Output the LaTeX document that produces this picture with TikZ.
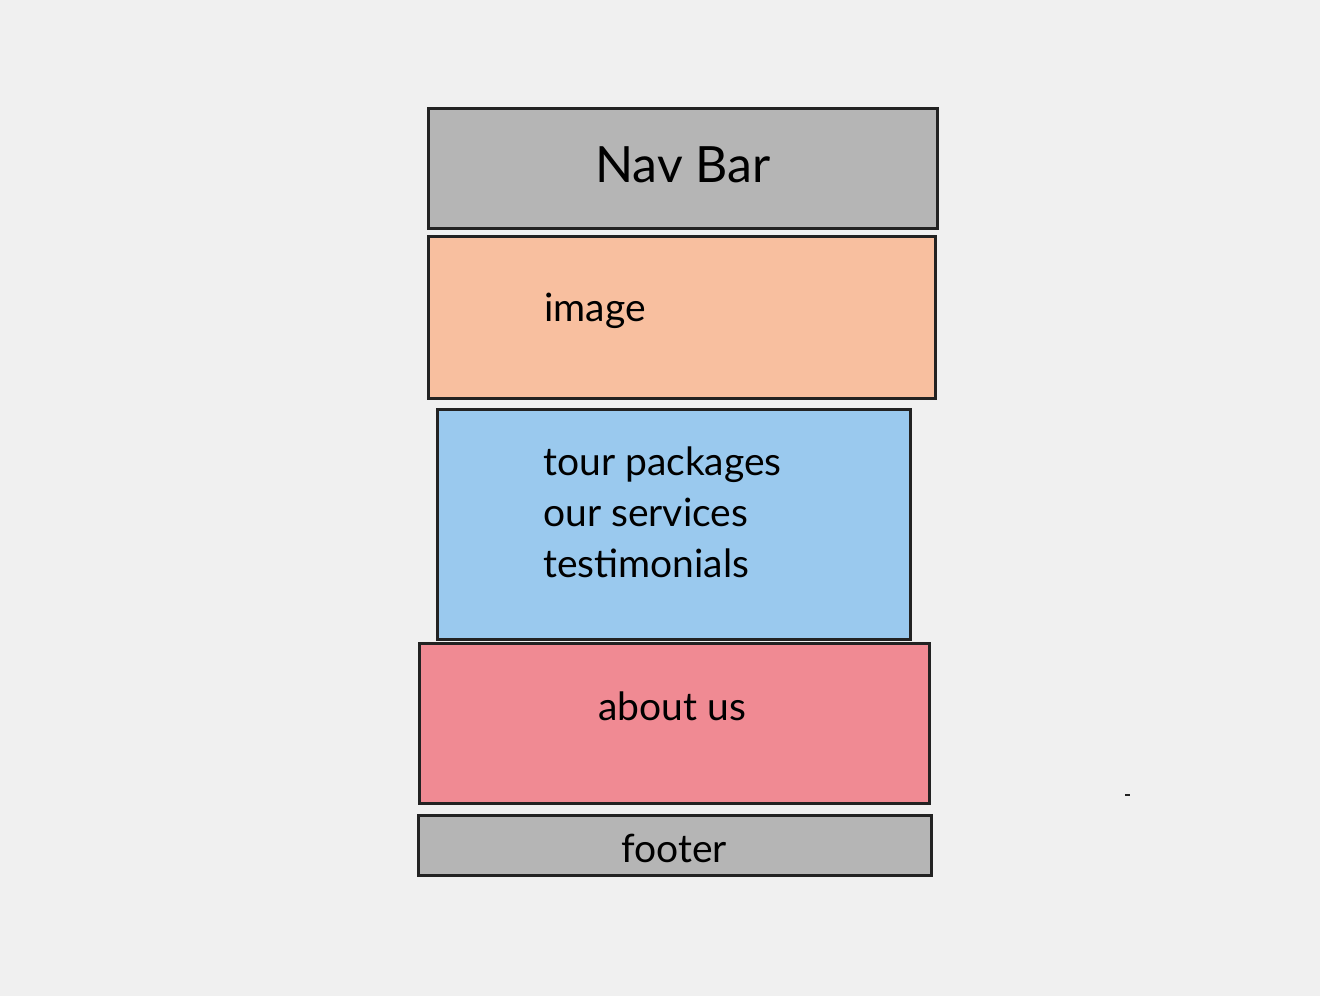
\documentclass[tikz,border=0pt]{standalone}
\usepackage{fontspec}
\setmainfont{Lato}
\definecolor{bg}{HTML}{F0F0F0}
\definecolor{navgray}{HTML}{B5B5B5}
\definecolor{peach}{HTML}{F8BF9F}
\definecolor{skyblue}{HTML}{9AC9EE}
\definecolor{rose}{HTML}{F08A93}
\definecolor{edge}{HTML}{222222}
\begin{document}
\begin{tikzpicture}[x=1pt,y=-1pt,
  block/.style={draw=edge,line width=3pt},
  lbl/.style={text=black,inner sep=0pt}]
\fill[bg] (0,0) rectangle (1320,996);
\useasboundingbox (0,0) rectangle (1320,996);
\draw[block,fill=navgray] (428,108) rectangle (937,228);
\draw[block,fill=peach] (428,236) rectangle (935,398);
\draw[block,fill=skyblue] (437,409) rectangle (910,639);
\draw[block,fill=rose] (419,643) rectangle (929,803);
\draw[block,fill=navgray] (418,815) rectangle (931,875);
\node[lbl,font=\fontsize{50}{54}\selectfont] (nav) at (683,165) {Nav Bar};
\node[lbl,anchor=west,font=\fontsize{39}{43}\selectfont] (img) at (544,311) {image};
\node[lbl,anchor=north west,align=left,font=\fontsize{39}{51}\selectfont] (tour) at (543,447) {tour packages\\our services\\testimonials};
\node[lbl,font=\fontsize{39}{43}\selectfont] (about) at (672,706) {about us};
\node[lbl,font=\fontsize{39}{43}\selectfont] (footer) at (674,848) {footer};
\draw[edge,line width=1.2pt] (1125,795) -- (1130,795);
\end{tikzpicture}
\end{document}
